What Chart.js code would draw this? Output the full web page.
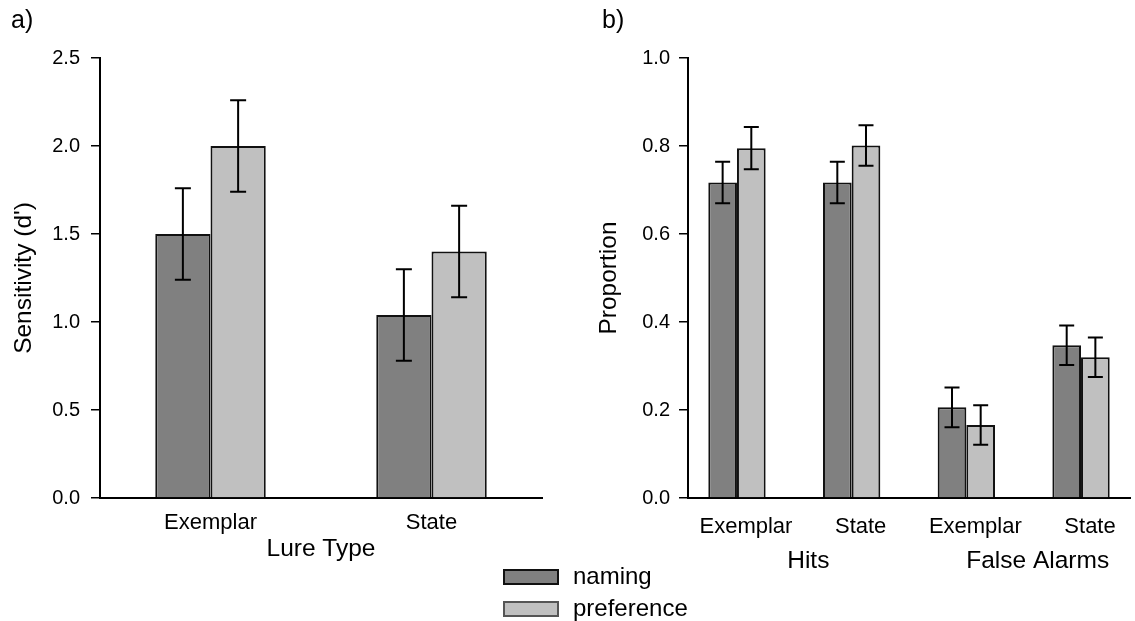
<!DOCTYPE html>
<html>
<head>
<meta charset="utf-8">
<script src="https://cdn.jsdelivr.net/npm/chart.js@4.4.1/dist/chart.umd.min.js"></script>
<style>
  html, body { margin: 0; padding: 0; background: #fff; }
  #page { position: relative; width: 1135px; height: 621px; overflow: hidden;
          font-family: "Liberation Sans", Arial, sans-serif; color: #000; }
  .wrap { position: absolute; top: 0; height: 621px; }
  #wrapA { left: 0; width: 580px; }
  #wrapB { left: 580px; width: 555px; }
  .panel-label { position: absolute; top: 5px; font-size: 25px; line-height: 28px; }
  .legend-item { position: absolute; left: 503px; font-size: 24px; line-height: 24px; }
  .legend-item .box { position: absolute; left: 0; top: 0; width: 56px; height: 16px; box-sizing: border-box; }
  .legend-item .txt { position: absolute; left: 70px; top: -5px; white-space: nowrap; }
</style>
</head>
<body>
<div id="page">
  <div class="wrap" id="wrapA"><canvas id="chartA"></canvas></div>
  <div class="wrap" id="wrapB"><canvas id="chartB"></canvas></div>
  <div class="panel-label" style="left:11px;">a)</div>
  <div class="panel-label" style="left:602px;">b)</div>
  <div class="legend-item" style="top:569px;">
    <div class="box" style="background:#808080;border:2px solid #111;"></div>
    <div class="txt">naming</div>
  </div>
  <div class="legend-item" style="top:601px;">
    <div class="box" style="background:#c0c0c0;border:2px solid #555;"></div>
    <div class="txt">preference</div>
  </div>
</div>
<script>
// ---- data ----
const seriesNames = ['naming', 'preference'];
const seriesColors = ['#808080', '#c0c0c0'];

// panel a) sensitivity by lure type
const lureTypes = ['Exemplar', 'State'];
const dPrimeNaming = [1.50, 1.04];
const dPrimePreference = [2.00, 1.40];
const dPrimeNamingErr = [0.26, 0.26];
const dPrimePreferenceErr = [0.26, 0.26];
const sensitivityTicks = [0, 0.5, 1.0, 1.5, 2.0, 2.5];

// panel b) proportions of hits / false alarms
const responseLabels = ['Exemplar', 'State', 'Exemplar', 'State'];
const responseGroups = ['Hits', 'False Alarms'];
const propNaming = [0.717, 0.717, 0.206, 0.347];
const propPreference = [0.795, 0.801, 0.166, 0.320];
const propNamingErr = [0.047, 0.047, 0.045, 0.045];
const propPreferenceErr = [0.048, 0.046, 0.045, 0.045];
const proportionTicks = [0, 0.2, 0.4, 0.6, 0.8, 1.0];

const FONT = '"Liberation Sans", Arial, sans-serif';
Chart.defaults.font.family = FONT;
Chart.defaults.color = '#000';

const valueOf = d => (typeof d === 'object' ? d.y : d);

// error bars drawn on top of every bar
const errorBars = {
  id: 'errorBars',
  afterDatasetsDraw(chart, args, opts) {
    const ctx = chart.ctx;
    const yScale = chart.scales.y;
    const half = opts.capWidth / 2;
    ctx.save();
    ctx.strokeStyle = '#000';
    ctx.lineWidth = 2;
    chart.data.datasets.forEach((ds, i) => {
      chart.getDatasetMeta(i).data.forEach((bar, j) => {
        const v = valueOf(ds.data[j]);
        const top = yScale.getPixelForValue(v + ds.errors[j]);
        const bot = yScale.getPixelForValue(v - ds.errors[j]);
        ctx.beginPath();
        ctx.moveTo(bar.x, top); ctx.lineTo(bar.x, bot);
        ctx.moveTo(bar.x - half, top); ctx.lineTo(bar.x + half, top);
        ctx.moveTo(bar.x - half, bot); ctx.lineTo(bar.x + half, bot);
        ctx.stroke();
      });
    });
    ctx.restore();
  }
};

// second row of x labels (Hits / False Alarms) under pairs of categories
const groupLabels = {
  id: 'groupLabels',
  afterDraw(chart) {
    const ctx = chart.ctx;
    const xScale = chart.scales.x;
    ctx.save();
    ctx.font = '24.5px ' + FONT;
    ctx.fillStyle = '#000';
    ctx.textAlign = 'center';
    ctx.textBaseline = 'middle';
    responseGroups.forEach((g, k) => {
      const px = (xScale.getPixelForValue(2 * k) + xScale.getPixelForValue(2 * k + 1)) / 2 + 14;
      ctx.fillText(g, px, xScale.top + 63);
    });
    ctx.restore();
  }
};

function makeDatasets(values, errors, asPoints) {
  return values.map((v, i) => ({
    label: seriesNames[i],
    data: asPoints ? v.map((y, k) => ({ x: k, y: y })) : v,
    errors: errors[i],
    backgroundColor: seriesColors[i],
    borderColor: '#111',
    borderWidth: 2,
    categoryPercentage: 0.5,
    barPercentage: 1.0
  }));
}

function yAxis(ticks, title, width, titlePad, labelPad) {
  return {
    min: ticks[0],
    max: ticks[ticks.length - 1],
    afterBuildTicks: s => { s.ticks = ticks.map(v => ({ value: v })); },
    afterFit: s => { s.width = width; },
    ticks: { font: { size: 20 }, padding: labelPad, callback: v => v.toFixed(1) },
    grid: { drawOnChartArea: false, drawTicks: true, tickLength: 9, color: '#000', lineWidth: 1.5 },
    border: { display: true, color: '#000', width: 2 },
    title: { display: true, text: title, font: { size: 24.5 }, padding: { top: titlePad, bottom: 4 } }
  };
}

function makeChart(id, labels, datasets, yOpts, xOpts, padding, plugins, capWidth) {
  return new Chart(document.getElementById(id), {
    type: 'bar',
    data: { labels: labels, datasets: datasets },
    options: {
      responsive: true,
      maintainAspectRatio: false,
      animation: false,
      layout: { padding: padding },
      plugins: { legend: { display: false }, tooltip: { enabled: false }, errorBars: { capWidth: capWidth } },
      scales: { x: xOpts, y: yOpts }
    },
    plugins: plugins
  });
}

makeChart('chartA', lureTypes,
  makeDatasets([dPrimeNaming, dPrimePreference], [dPrimeNamingErr, dPrimePreferenceErr], false),
  yAxis(sensitivityTicks, "Sensitivity (d')", 100, 10, 11),
  {
    afterFit: s => { s.height = 70; },
    grid: { display: false, drawTicks: false },
    border: { display: true, color: '#000', width: 2 },
    ticks: { font: { size: 22 }, padding: 12 },
    title: { display: true, text: 'Lure Type', font: { size: 24.5 }, padding: { top: 4, bottom: 4 } }
  },
  { left: 0, right: 38, top: 58, bottom: 53 },
  [errorBars], 16);

// panel b uses a linear index axis so the outer gaps match the original plot
const edgeGap = 0.427;
makeChart('chartB', responseLabels,
  makeDatasets([propNaming, propPreference], [propNamingErr, propPreferenceErr], true),
  yAxis(proportionTicks, 'Proportion', 108, 15, 9),
  {
    type: 'linear',
    offset: false,
    min: -edgeGap,
    max: responseLabels.length - 1 + edgeGap,
    afterBuildTicks: s => { s.ticks = responseLabels.map((l, i) => ({ value: i })); },
    afterFit: s => { s.height = 123; },
    grid: { display: false, drawTicks: false },
    border: { display: true, color: '#000', width: 2 },
    ticks: { font: { size: 22 }, padding: 16, labelOffset: 9, maxRotation: 0, autoSkip: false,
             callback: v => responseLabels[v] }
  },
  { left: 0, right: 5, top: 58, bottom: 0 },
  [errorBars, groupLabels], 15);
</script>
</body>
</html>
